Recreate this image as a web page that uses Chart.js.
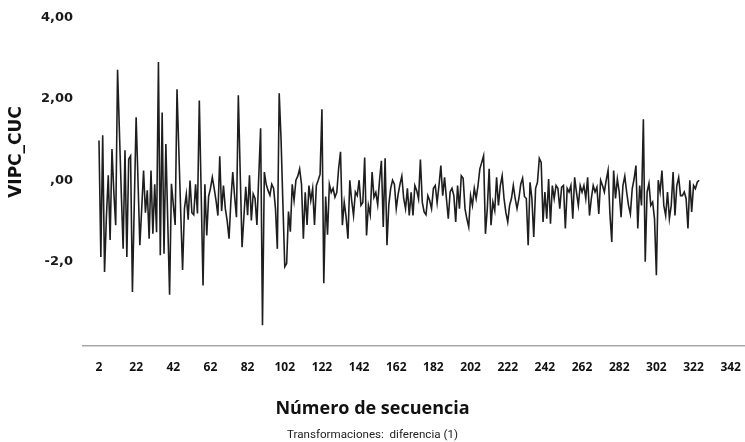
<!DOCTYPE html>
<html>
<head>
<meta charset="utf-8">
<script src="https://cdn.jsdelivr.net/npm/chart.js@4.4.0/dist/chart.umd.min.js"></script>
<style>
  html, body { margin: 0; padding: 0; background: #ffffff; }
  #wrap { position: relative; width: 745px; height: 442px; }
</style>
</head>
<body>
<div id="wrap"><canvas id="c"></canvas></div>
<script>
// First difference of VIPC_CUC, one value per sequence number starting at 2
const firstSequence = 2;
const vipcCuc = [
  0.98, -1.89, 1.11, -2.26, -0.9, 0.12, -1.47, 0.77, -0.3, -1.11,
  2.72, 1.2, -0.3, -1.69, 0.74, -1.89, 0.52, 0.6, -2.75, -0.6,
  1.55, 0.0, -1.6, -0.7, 0.24, -0.8, -0.25, -1.44, 0.24, -1.32,
  -0.1, -1.28, 2.91, -1.85, 1.67, -1.81, 0.89, -1.0, -2.82, -0.09,
  -0.6, -1.1, 2.24, 0.7, -0.8, -2.21, -0.7, -0.35, -0.97, -0.01,
  -0.8, -0.85, -0.1, -0.82, 1.96, -0.3, -2.59, -0.1, -1.36, -0.4,
  -0.2, 0.07, -0.2, -0.5, -0.87, 0.59, -0.76, -0.13, -0.7, -1.0,
  -1.44, -0.5, 0.2, -0.4, -0.91, 2.09, 0.2, -1.65, -0.9, -0.16,
  -0.86, 0.12, -0.99, -0.34, -0.45, -1.1, 0.1, 1.28, -3.57, 0.2,
  -0.1, -0.25, -0.37, -0.1, -0.2, -0.7, -1.69, 2.14, 1.0, -0.6,
  -2.13, -2.05, -0.77, -1.27, -0.1, -0.5, 0.0, 0.1, 0.28, -0.1,
  -1.44, -0.3, -1.1, -0.13, -0.5, -0.2, -1.1, -0.13, 0.0, 0.15,
  1.75, -2.54, -0.4, -1.34, -0.1, -0.3, -0.2, -0.42, -0.3, 0.3,
  0.7, -1.11, -0.54, -0.9, -1.44, 0.0, -0.5, -0.87, -0.29, -0.38,
  0.0, -0.62, -0.55, 0.56, -1.36, -0.62, -0.85, 0.2, -0.42, -0.3,
  -0.6, 0.0, 0.48, -1.15, 0.54, -1.6, -0.6, -0.2, 0.0, -0.1,
  -0.7, -0.35, -0.1, 0.1, -0.45, -0.7, -0.2, -0.87, -0.3, -0.87,
  -0.13, -0.25, -0.46, 0.51, -0.54, -0.78, -0.85, -0.38, -0.5, -0.7,
  -0.2, -0.13, -0.55, -0.13, 0.36, -0.38, 0.07, -0.45, -0.95, -0.29,
  -0.2, -0.38, -1.03, -0.13, -0.7, 0.11, 0.05, -0.7, -0.95, -1.15,
  -0.38, -0.62, -0.2, -0.45, -0.13, 0.28, 0.44, 0.6, -1.32, -0.7,
  0.28, -1.11, -0.54, -0.75, 0.07, -0.62, -0.13, 0.11, -0.45, -0.8,
  -1.03, -0.62, -0.45, -0.13, -0.45, -0.7, -0.45, -0.1, 0.05, -0.4,
  -0.45, -1.6, -0.05, -0.45, -1.4, -0.2, -0.05, 0.54, 0.44, -1.03,
  -0.29, -0.95, 0.03, -1.07, -0.13, -0.45, -0.13, -0.2, -0.7, -0.17,
  -0.13, -1.19, -0.2, -0.29, -0.13, -0.95, 0.07, -0.3, -0.62, -0.13,
  -0.29, -0.13, -0.45, 0.07, -0.87, -0.45, -0.13, -0.29, -0.17, -0.83,
  0.0, -0.13, -0.29, 0.0, 0.24, -0.83, -1.52, 0.24, -0.45, 0.03,
  -0.29, -0.91, -0.13, 0.1, -0.29, -0.62, -0.83, -0.21, 0.03, 0.36,
  -1.19, -0.13, -0.62, 1.5, -2.01, -0.29, -0.08, -0.62, -0.54, -0.95,
  -2.34, 0.0, -0.29, 0.24, -0.62, -0.87, -0.29, -0.95, -0.62, 0.2,
  -0.87, -0.13, 0.07, -0.38, -0.38, -0.29, -0.45, -1.19, 0.0, -0.78,
  -0.13, -0.21, -0.05, 0.0
];
const sequenceNumbers = vipcCuc.map((_, i) => firstSequence + i);

const xTickValues = [2, 22, 42, 62, 82, 102, 122, 142, 162, 182, 202, 222, 242, 262, 282, 302, 322, 342];
const yTickValues = [4, 2, 0, -2];
const yTickLabels = ['4,00', '2,00', ',00', '-2,0'];

const yTitleText = 'VIPC_CUC';
const xTitleText = 'Número de secuencia';
const footnoteText = 'Transformaciones:  diferencia (1)';

// Rotated variable name on the left edge
const yTitlePlugin = {
  id: 'yTitle',
  afterDraw(chart, args, opts) {
    const ctx = chart.ctx;
    ctx.save();
    ctx.translate(opts.x, opts.y);
    ctx.rotate(-Math.PI / 2);
    ctx.font = opts.font;
    ctx.fillStyle = opts.color;
    ctx.textAlign = 'center';
    ctx.textBaseline = 'middle';
    ctx.fillText(opts.text, 0, 0);
    ctx.restore();
  }
};

new Chart(document.getElementById('c'), {
  type: 'line',
  data: {
    datasets: [{
      label: yTitleText,
      data: sequenceNumbers.map((s, i) => ({ x: s, y: vipcCuc[i] })),
      borderColor: '#1e1e1e',
      borderWidth: 1.6,
      pointRadius: 0,
      tension: 0,
      fill: false
    }]
  },
  options: {
    responsive: true,
    maintainAspectRatio: false,
    animation: false,
    devicePixelRatio: 1,
    layout: { padding: { top: 15, right: 0, bottom: 0, left: 0 } },
    scales: {
      x: {
        type: 'linear',
        min: -6.6,
        max: 349.7,
        grid: { display: false, drawTicks: false },
        border: { display: true, color: '#a8a8a8', width: 1.5 },
        afterBuildTicks(scale) { scale.ticks = xTickValues.map(v => ({ value: v })); },
        afterFit(scale) {
          scale.height = 30;
          scale.paddingLeft = 0;
          scale.paddingRight = 0;
        },
        ticks: {
          autoSkip: false,
          maxRotation: 0,
          padding: 15,
          color: '#111111',
          font: { family: 'Open Sans', size: 12, weight: 'bold' },
          callback: v => String(v)
        }
      },
      y: {
        type: 'linear',
        min: -4.07,
        max: 4,
        grid: { display: false, drawTicks: false },
        border: { display: false },
        afterBuildTicks(scale) { scale.ticks = yTickValues.map(v => ({ value: v })); },
        afterFit(scale) { scale.width = 83; },
        ticks: {
          padding: 10,
          color: '#1a1a1a',
          font: { family: 'DejaVu Sans', size: 13, weight: 'bold' },
          callback: v => yTickLabels[yTickValues.indexOf(v)]
        }
      }
    },
    plugins: {
      legend: { display: false },
      tooltip: { enabled: false },
      title: {
        display: true,
        position: 'bottom',
        weight: 100,
        text: xTitleText,
        color: '#111111',
        font: { family: 'Open Sans', size: 18, weight: 'bold', lineHeight: 1.2 },
        padding: { top: 23, bottom: 0 }
      },
      subtitle: {
        display: true,
        position: 'bottom',
        weight: 200,
        text: footnoteText,
        color: '#222222',
        font: { family: 'Roboto', size: 11.6, weight: 'normal', lineHeight: 1.2 },
        padding: { top: 8, bottom: 0 }
      },
      yTitle: {
        text: yTitleText,
        x: 17,
        y: 152,
        font: 'bold 17px "DejaVu Sans"',
        color: '#111111'
      }
    }
  },
  plugins: [yTitlePlugin]
});
</script>
</body>
</html>
